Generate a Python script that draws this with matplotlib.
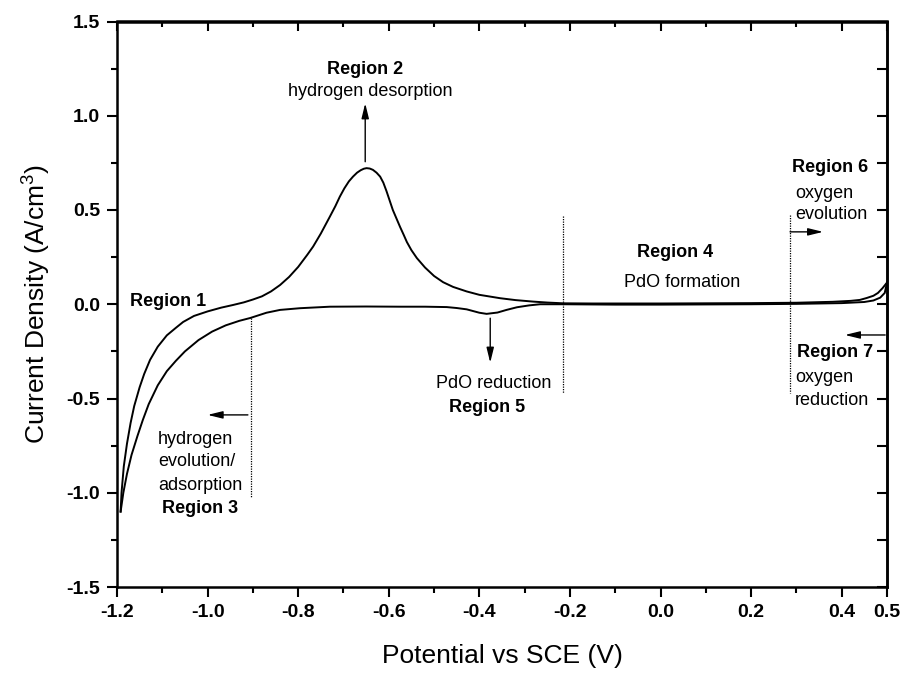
import matplotlib
matplotlib.use("Agg")
import matplotlib.pyplot as plt
from matplotlib.ticker import MultipleLocator, FixedLocator

plt.rcParams['font.family'] = ['Liberation Sans', 'DejaVu Sans']
plt.rcParams['mathtext.default'] = 'regular'

# ---- data ----
anodic_x = [-1.192, -1.190, -1.185, -1.178, -1.170, -1.162, -1.150, -1.140, -1.127, -1.110,
            -1.090, -1.070, -1.054, -1.030, -1.000, -0.970, -0.944, -0.920, -0.900, -0.880,
            -0.860, -0.840, -0.820, -0.800, -0.780, -0.767, -0.750, -0.730, -0.718, -0.708,
            -0.698, -0.688, -0.679, -0.670, -0.662, -0.655, -0.649, -0.642, -0.635, -0.627,
            -0.619, -0.612, -0.605, -0.598, -0.591, -0.583, -0.575, -0.567, -0.560, -0.550,
            -0.538, -0.520, -0.500, -0.480, -0.458, -0.428, -0.400, -0.354, -0.320, -0.281,
            -0.250, -0.215, -0.150, -0.100, 0.000, 0.100, 0.200, 0.300, 0.380, 0.420,
            0.440, 0.455, 0.470, 0.480, 0.490, 0.495, 0.500]
anodic_y = [-1.100, -1.000, -0.860, -0.740, -0.630, -0.540, -0.440, -0.370, -0.295, -0.225,
            -0.165, -0.125, -0.094, -0.062, -0.038, -0.018, -0.004, 0.010, 0.025, 0.042,
            0.068, 0.102, 0.145, 0.198, 0.262, 0.306, 0.375, 0.465, 0.520, 0.571,
            0.615, 0.652, 0.677, 0.698, 0.711, 0.719, 0.722, 0.720, 0.713, 0.698,
            0.677, 0.645, 0.600, 0.550, 0.500, 0.455, 0.410, 0.368, 0.330, 0.287,
            0.245, 0.195, 0.150, 0.117, 0.092, 0.068, 0.050, 0.032, 0.022, 0.014,
            0.009, 0.005, 0.004, 0.004, 0.004, 0.005, 0.006, 0.008, 0.013, 0.018,
            0.023, 0.033, 0.045, 0.060, 0.085, 0.100, 0.115]

cathodic_x = [0.500, 0.495, 0.485, 0.470, 0.450, 0.400, 0.300, 0.200, 0.100, 0.000,
              -0.100, -0.215, -0.266, -0.290, -0.317, -0.340, -0.360, -0.384, -0.400, -0.428,
              -0.450, -0.472, -0.520, -0.575, -0.650, -0.730, -0.796, -0.840, -0.870, -0.906,
              -0.930, -0.960, -0.990, -1.020, -1.050, -1.070, -1.090, -1.110, -1.130, -1.143,
              -1.155, -1.168, -1.178, -1.186, -1.192]
cathodic_y = [0.115, 0.060, 0.035, 0.020, 0.012, 0.006, 0.002, 0.000, -0.001, -0.002,
              -0.002, 0.000, 0.000, -0.006, -0.016, -0.030, -0.044, -0.051, -0.045, -0.027,
              -0.020, -0.015, -0.013, -0.013, -0.012, -0.013, -0.021, -0.030, -0.045, -0.073,
              -0.088, -0.112, -0.145, -0.190, -0.250, -0.300, -0.355, -0.430, -0.530, -0.614,
              -0.700, -0.800, -0.900, -1.000, -1.100]

x_major = [-1.2, -1.0, -0.8, -0.6, -0.4, -0.2, 0.0, 0.2, 0.4, 0.5]
x_labels = ['-1.2', '-1.0', '-0.8', '-0.6', '-0.4', '-0.2', '0.0', '0.2', '0.4', '0.5']
x_minor = [-1.1, -0.9, -0.7, -0.5, -0.3, -0.1, 0.1, 0.3]
y_major = [-1.5, -1.0, -0.5, 0.0, 0.5, 1.0, 1.5]
y_labels = ['-1.5', '-1.0', '-0.5', '0.0', '0.5', '1.0', '1.5']

fig = plt.figure(figsize=(9.02, 6.78), dpi=100)
ax = fig.add_axes([117/902, 1-587/678, 770/902, 565.5/678])

ax.plot(anodic_x, anodic_y, color='black', lw=1.4, solid_joinstyle='round')
ax.plot(cathodic_x, cathodic_y, color='black', lw=1.4, solid_joinstyle='round')

ax.set_xlim(-1.2, 0.5)
ax.set_ylim(-1.5, 1.5)

ax.xaxis.set_major_locator(FixedLocator(x_major))
ax.set_xticklabels(x_labels)
ax.xaxis.set_minor_locator(FixedLocator(x_minor))
ax.yaxis.set_major_locator(FixedLocator(y_major))
ax.set_yticklabels(y_labels)
ax.yaxis.set_minor_locator(MultipleLocator(0.25))

for s in ax.spines.values():
    s.set_linewidth(1.8)
ax.tick_params(which='major', direction='out', length=7, width=1.5, labelsize=14, pad=5)
ax.tick_params(which='minor', direction='out', length=4, width=1.5)
for lbl in ax.get_xticklabels() + ax.get_yticklabels():
    lbl.set_fontweight('bold')

# top and right axes with inward ticks
secx = ax.secondary_xaxis('top')
secx.xaxis.set_major_locator(FixedLocator(x_major))
secx.xaxis.set_minor_locator(FixedLocator(x_minor))
secx.tick_params(which='major', direction='in', length=7, width=1.5, labeltop=False)
secx.tick_params(which='minor', direction='in', length=4, width=1.5)
secx.spines['top'].set_linewidth(1.8)
secy = ax.secondary_yaxis('right')
secy.yaxis.set_major_locator(FixedLocator(y_major))
secy.yaxis.set_minor_locator(MultipleLocator(0.25))
secy.tick_params(which='major', direction='in', length=7, width=1.5, labelright=False)
secy.tick_params(which='minor', direction='in', length=7, width=1.5)
secy.spines['right'].set_linewidth(1.8)

ax.set_xlabel('Potential vs SCE (V)', fontsize=19)
ax.set_ylabel('Current Density (A/cm$^{3}$)', fontsize=19)
ax.xaxis.set_label_coords(0.5, -0.10)
ax.yaxis.set_label_coords(-0.083, 0.5)

# dotted separators
dot = dict(color='black', lw=0.9, linestyle=(0, (1, 1)))
ax.plot([-0.904, -0.904], [-0.074, -1.028], **dot)
ax.plot([-0.215, -0.215], [0.47, -0.47], **dot)
ax.plot([0.286, 0.286], [0.474, -0.47], **dot)

# arrows
ap = dict(arrowstyle='-|>,head_length=0.9,head_width=0.22', color='black', lw=1.0,
          shrinkA=0, shrinkB=0)
ax.annotate('', xy=(-0.652, 1.066), xytext=(-0.652, 0.756), arrowprops=ap)
ax.annotate('', xy=(-0.376, -0.31), xytext=(-0.376, -0.074), arrowprops=ap)
ax.annotate('', xy=(-1.000, -0.587), xytext=(-0.911, -0.587), arrowprops=ap)
ax.annotate('', xy=(0.359, 0.384), xytext=(0.286, 0.384), arrowprops=ap)
ax.annotate('', xy=(0.407, -0.163), xytext=(0.496, -0.163), arrowprops=ap)

fs = 13
ax.text(-1.171, 0.012, 'Region 1', fontsize=fs, fontweight='bold', ha='left', va='center')
ax.text(-0.652, 1.245, 'Region 2', fontsize=fs, fontweight='bold', ha='center', va='center')
ax.text(-0.640, 1.128, 'hydrogen desorption', fontsize=fs, ha='center', va='center')
ax.text(-1.026, -0.72, 'hydrogen', fontsize=fs, ha='center', va='center')
ax.text(-1.024, -0.835, 'evolution/', fontsize=fs, ha='center', va='center')
ax.text(-1.016, -0.959, 'adsorption', fontsize=fs, ha='center', va='center')
ax.text(-1.017, -1.082, 'Region 3', fontsize=fs, fontweight='bold', ha='center', va='center')
ax.text(0.032, 0.272, 'Region 4', fontsize=fs, fontweight='bold', ha='center', va='center')
ax.text(0.047, 0.118, 'PdO formation', fontsize=fs, ha='center', va='center')
ax.text(-0.369, -0.419, 'PdO reduction', fontsize=fs, ha='center', va='center')
ax.text(-0.383, -0.55, 'Region 5', fontsize=fs, fontweight='bold', ha='center', va='center')
ax.text(0.290, 0.728, 'Region 6', fontsize=fs, fontweight='bold', ha='left', va='center')
ax.text(0.297, 0.590, 'oxygen', fontsize=fs, ha='left', va='center')
ax.text(0.297, 0.474, 'evolution', fontsize=fs, ha='left', va='center')
ax.text(0.301, -0.258, 'Region 7', fontsize=fs, fontweight='bold', ha='left', va='center')
ax.text(0.297, -0.391, 'oxygen', fontsize=fs, ha='left', va='center')
ax.text(0.297, -0.508, 'reduction', fontsize=fs, ha='left', va='center')

fig.savefig('out.png', dpi=100)
